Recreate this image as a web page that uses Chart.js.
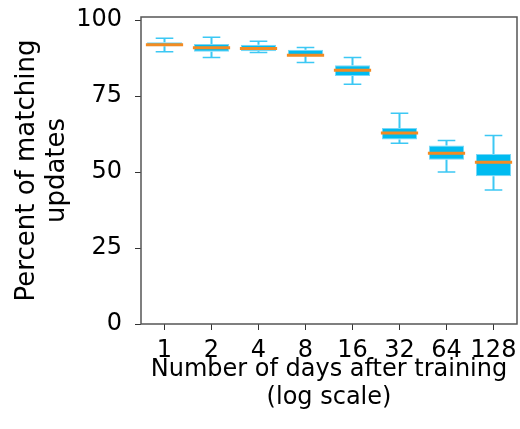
<!DOCTYPE html>
<html>
<head>
<meta charset="utf-8">
<script src="https://cdn.jsdelivr.net/npm/chart.js@4.4.1/dist/chart.umd.min.js"></script>
<style>
    html, body { margin: 0; padding: 0; background: #fff; }
    #wrap { width: 520px; height: 429px; }
</style>
</head>
<body>
<div id="wrap"><canvas id="chartBoxplot"></canvas></div>
<script>
/* ==============================
   DATOS
================================ */
const days = ['1', '2', '4', '8', '16', '32', '64', '128'];
const whiskerHigh = [94.0, 94.3, 93.0, 91.0, 87.7, 69.3, 60.4, 62.0];
const q3 = [92.7, 92.1, 91.9, 90.2, 85.1, 64.5, 58.7, 55.9];
const median = [91.9, 90.9, 90.6, 88.4, 83.5, 62.8, 56.2, 53.2];
const q1 = [91.4, 89.6, 89.7, 88.1, 81.6, 60.7, 54.0, 48.6];
const whiskerLow = [89.6, 87.7, 89.3, 86.0, 78.9, 59.5, 50.0, 44.1];
const yTicks = [0, 25, 50, 75, 100];

const BOX_BLUE = '#00BBF0';
const WHISKER_BLUE = '#3CC8F4';
const MEDIAN_ORANGE = '#F38B22';
const FRAME = '#555';

Chart.defaults.font.family = '"DejaVu Sans", sans-serif';
Chart.defaults.color = '#000';

/* ==============================
   BIGOTES + MEDIANA
================================ */
const whiskersPlugin = {
    id: 'whiskers',
    afterDatasetsDraw(chart) {

        const { ctx, scales: { y } } = chart;
        const meta = chart.getDatasetMeta(0);

        ctx.save();
        meta.data.forEach((bar, i) => {
            const x = bar.x;
            const half = bar.width / 2;
            const cap = bar.width / 4;

            ctx.strokeStyle = WHISKER_BLUE;
            ctx.lineWidth = 2;
            ctx.beginPath();
            ctx.moveTo(x, y.getPixelForValue(q3[i]));
            ctx.lineTo(x, y.getPixelForValue(whiskerHigh[i]));
            ctx.moveTo(x, y.getPixelForValue(q1[i]));
            ctx.lineTo(x, y.getPixelForValue(whiskerLow[i]));
            ctx.stroke();

            ctx.lineWidth = 1.5;
            ctx.beginPath();
            ctx.moveTo(x - cap, y.getPixelForValue(whiskerHigh[i]));
            ctx.lineTo(x + cap, y.getPixelForValue(whiskerHigh[i]));
            ctx.moveTo(x - cap, y.getPixelForValue(whiskerLow[i]));
            ctx.lineTo(x + cap, y.getPixelForValue(whiskerLow[i]));
            ctx.stroke();

            ctx.strokeStyle = MEDIAN_ORANGE;
            ctx.lineWidth = 3;
            ctx.beginPath();
            ctx.moveTo(x - half - 1, y.getPixelForValue(median[i]));
            ctx.lineTo(x + half + 1, y.getPixelForValue(median[i]));
            ctx.stroke();
        });
        ctx.restore();
    }
};

/* ==============================
   MARCO
================================ */
const framePlugin = {
    id: 'frame',
    afterDraw(chart) {

        const { ctx, chartArea: a } = chart;
        ctx.save();
        ctx.strokeStyle = FRAME;
        ctx.lineWidth = 1.5;
        ctx.strokeRect(a.left, a.top, a.right - a.left, a.bottom - a.top);
        ctx.restore();
    }
};

/* ==============================
   GRÁFICO
================================ */
new Chart(document.getElementById('chartBoxplot'), {
    type: 'bar',
    data: {
        labels: days,
        datasets: [{
            data: days.map((d, i) => [q1[i], q3[i]]),
            backgroundColor: BOX_BLUE,
            borderColor: '#7AD7F6',
            borderWidth: 1,
            borderSkipped: false,
            barPercentage: 0.75,
            categoryPercentage: 1
        }]
    },
    options: {
        responsive: true,
        maintainAspectRatio: false,
        animation: false,
        layout: { padding: { top: 17, right: 3, left: 0, bottom: 0 } },
        plugins: {
            legend: { display: false },
            tooltip: { enabled: false }
        },
        scales: {
            x: {
                offset: true,
                border: { display: false },
                grid: {
                    offset: false,
                    drawOnChartArea: false,
                    tickLength: 6,
                    color: '#333'
                },
                ticks: {
                    font: { size: 24 },
                    padding: 6,
                    maxRotation: 0,
                    autoSkip: false
                },
                title: {
                    display: true,
                    text: ['Number of days after training', '(log scale)'],
                    font: { size: 24, lineHeight: 1.1667 },
                    padding: { top: 4, bottom: 17 }
                },
                afterFit(scale) {
                    scale.height = 105;
                    scale.paddingLeft = 0;
                    scale.paddingRight = 0;
                }
            },
            y: {
                min: 0,
                max: 101,
                border: { display: false },
                grid: {
                    drawOnChartArea: false,
                    tickLength: 6,
                    color: '#333'
                },
                ticks: {
                    font: { size: 24 },
                    padding: 13
                },
                afterBuildTicks(scale) {
                    scale.ticks = yTicks.map(v => ({ value: v }));
                },
                title: {
                    display: true,
                    text: ['Percent of matching', 'updates'],
                    font: { size: 26, lineHeight: 1.15 },
                    padding: { top: 12, bottom: 0 }
                },
                afterFit(scale) {
                    scale.width = 141;
                    scale.paddingTop = 0;
                    scale.paddingBottom = 0;
                }
            }
        }
    },
    plugins: [whiskersPlugin, framePlugin]
});
</script>
</body>
</html>
